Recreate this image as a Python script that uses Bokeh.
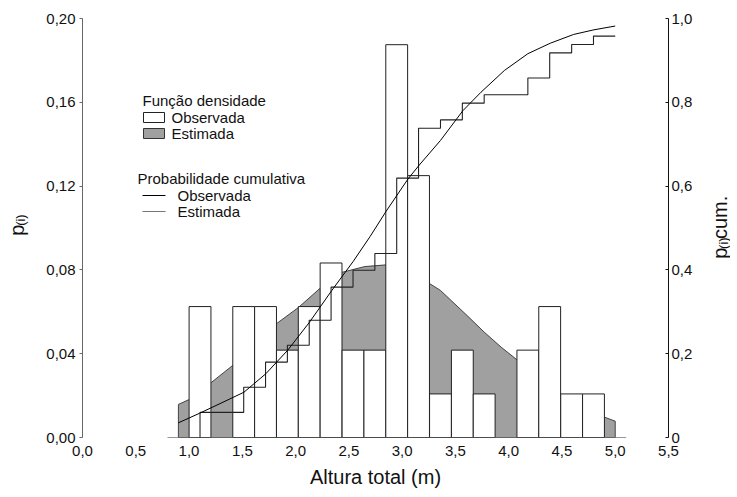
import math
from bokeh.plotting import figure
from bokeh.layouts import row
from bokeh.models import Range1d, LinearAxis, FixedTicker, Label, CustomJSTickFormatter
from bokeh.core.properties import value
from bokeh.embed import file_html
from bokeh.resources import INLINE

# ---------------- data ----------------
# class midpoints of histogram bars (m)
class_mid = [1.103, 1.308, 1.513, 1.718, 1.923, 2.128, 2.333, 2.539, 2.744, 2.949,
             3.154, 3.360, 3.565, 3.770, 3.975, 4.180, 4.385, 4.591, 4.796]
# observed relative frequency p(i)
p_obs = [0.0625, 0.0, 0.0625, 0.0625, 0.0417, 0.0625, 0.0833, 0.0417, 0.0417, 0.1875,
         0.1250, 0.0208, 0.0417, 0.0208, 0.0, 0.0417, 0.0625, 0.0208, 0.0208]
# observed cumulative probability (steps at class midpoints)
cum_obs = [0.060, 0.060, 0.120, 0.180, 0.220, 0.280, 0.359, 0.399, 0.439, 0.619,
           0.738, 0.758, 0.798, 0.818, 0.818, 0.858, 0.918, 0.938, 0.958]
# estimated density (shaded)
dens_x = [0.90, 1.00, 1.20, 1.41, 1.82, 2.03, 2.24, 2.44, 2.65, 2.85, 3.05, 3.26,
          3.36, 3.46, 3.61, 3.77, 3.93, 4.08, 4.50, 4.90, 5.00]
dens_y = [0.0158, 0.0181, 0.0259, 0.0344, 0.0543, 0.0622, 0.0717, 0.0789, 0.0816, 0.0824,
          0.0785, 0.0734, 0.0702, 0.0654, 0.0582, 0.0503, 0.0431, 0.0370, 0.0190, 0.0097, 0.0078]
# estimated cumulative probability (curve)
cum_est_x = [0.90, 1.10, 1.30, 1.515, 1.72, 1.925, 2.13, 2.34, 2.54, 2.70, 2.85, 3.055,
             3.16, 3.36, 3.57, 3.74, 3.96, 4.18, 4.39, 4.61, 4.80, 5.00]
cum_est_y = [0.035, 0.058, 0.082, 0.108, 0.152, 0.208, 0.275, 0.351, 0.420, 0.480, 0.540, 0.617,
             0.650, 0.709, 0.780, 0.824, 0.876, 0.916, 0.941, 0.962, 0.973, 0.982]

x_ticks = [0, 0.5, 1, 1.5, 2, 2.5, 3, 3.5, 4, 4.5, 5, 5.5]
x_tick_labels = ["0,0", "0,5", "1,0", "1,5", "2,0", "2,5", "3,0", "3,5", "4,0", "4,5", "5,0", "5,5"]
y_ticks = [0, 0.04, 0.08, 0.12, 0.16, 0.2]
y_tick_labels = ["0,00", "0,04", "0,08", "0,12", "0,16", "0,20"]
y2_ticks = [0, 0.2, 0.4, 0.6, 0.8, 1]
y2_tick_labels = ["0", "0,2", "0,4", "0,6", "0,8", "1,0"]

# ---------------- layout ----------------
FONT = "Liberation Sans"
BAR_W = 0.205
X0, X1, Y0, Y1 = 0.0, 5.5, 0.0, 0.2
F_LEFT, F_TOP, F_W, F_H = 82, 18, 586, 419   # frame position on page (px)
FIG_H = 490
LEFT_W = 40          # strip holding the left axis title
RIGHT_W = 32         # strip holding the right axis title
MAIN_RIGHT_BORDER = 30


def X(px):
    return X0 + (px - F_LEFT) / F_W * (X1 - X0)


def Y(py):
    return Y0 + (F_TOP + F_H - py) / F_H * (Y1 - Y0)


def fmt(ticks, labels):
    return CustomJSTickFormatter(args=dict(t=ticks, l=labels), code="""
        for (let i = 0; i < t.length; i++) {
            if (Math.abs(t[i] - tick) < 1e-9) { return l[i]; }
        }
        return "";
    """)


p = figure(frame_width=F_W, frame_height=F_H,
           x_range=Range1d(X0, X1), y_range=Range1d(Y0, Y1),
           output_backend="svg", toolbar_location=None,
           min_border_left=F_LEFT - LEFT_W, min_border_right=MAIN_RIGHT_BORDER,
           min_border_top=F_TOP, min_border_bottom=FIG_H - F_TOP - F_H)
p.outline_line_color = None
p.xgrid.visible = False
p.ygrid.visible = False
p.background_fill_color = "white"
p.border_fill_color = "white"

p.extra_y_ranges = {"cum": Range1d(0, 1)}

# bottom axis: labels only
xa = p.xaxis[0]
xa.ticker = FixedTicker(ticks=x_ticks)
xa.formatter = fmt(x_ticks, x_tick_labels)
xa.axis_line_color = None
xa.major_tick_line_color = None
xa.minor_tick_line_color = None
xa.major_label_standoff = 2
xa.major_label_text_font = FONT
xa.major_label_text_font_size = "15px"
xa.major_label_text_color = "#111111"
xa.axis_label = "Altura total (m)"
xa.axis_label_text_font = FONT
xa.axis_label_text_font_size = "20px"
xa.axis_label_text_font_style = "normal"
xa.axis_label_text_color = "#111111"
xa.axis_label_standoff = 7

# left axis
ya = p.yaxis[0]
ya.ticker = FixedTicker(ticks=y_ticks)
ya.formatter = fmt(y_ticks, y_tick_labels)
ya.axis_line_color = "#666666"
ya.major_tick_line_color = "#666666"
ya.major_tick_out = 3
ya.major_tick_in = 0
ya.minor_tick_line_color = None
ya.major_label_standoff = 4
ya.major_label_text_font = FONT
ya.major_label_text_font_size = "15px"
ya.major_label_text_color = "#111111"

# right axis
ra = LinearAxis(y_range_name="cum")
ra.ticker = FixedTicker(ticks=y2_ticks)
ra.formatter = fmt(y2_ticks, y2_tick_labels)
ra.axis_line_color = "#111111"
ra.major_tick_line_color = "#111111"
ra.major_tick_out = 0
ra.major_tick_in = 3
ra.minor_tick_line_color = None
ra.major_label_standoff = 3
ra.major_label_text_font = FONT
ra.major_label_text_font_size = "15px"
ra.major_label_text_color = "#111111"
p.add_layout(ra, "right")

# ---------------- marks ----------------
# estimated density (shaded area)
p.patch(x=dens_x + [dens_x[-1], dens_x[0]], y=dens_y + [0, 0],
        fill_color="#a0a0a0", line_color="#333333", line_width=0.9)

# observed relative frequencies
bx = [m for m, v in zip(class_mid, p_obs) if v > 0]
bt = [v for v in p_obs if v > 0]
p.vbar(x=bx, top=bt, bottom=0, width=BAR_W,
       fill_color="white", line_color="#222222", line_width=1)

# baseline under the histogram
p.segment(x0=[dens_x[0] - BAR_W / 2], y0=[0], x1=[dens_x[-1] + BAR_W / 2], y1=[0],
          line_color="#333333", line_width=1.2)

# observed cumulative step
sx = [class_mid[0]] + class_mid + [dens_x[-1]]
sy = [0] + cum_obs + [cum_obs[-1]]
p.step(x=sx, y=sy, mode="after", y_range_name="cum", line_color="#222222", line_width=1.1)

# estimated cumulative curve
p.line(x=cum_est_x, y=cum_est_y, y_range_name="cum", line_color="#000000", line_width=1)

# ---------------- legend (manual) ----------------
def label(px, py, text, size="15px", color="#111111"):
    p.add_layout(Label(x=X(px), y=Y(py), text=text,
                       text_font=FONT, text_font_size=size, text_color=color,
                       text_align="left", text_baseline="middle"))


label(142, 100, "Função densidade")
p.quad(left=[X(143)], right=[X(164)], top=[Y(112)], bottom=[Y(122)],
       fill_color="white", line_color="#222222", line_width=1)
label(171, 117, "Observada")
p.quad(left=[X(143)], right=[X(164)], top=[Y(128)], bottom=[Y(138)],
       fill_color="#a0a0a0", line_color="#333333", line_width=1)
label(171, 133, "Estimada")

label(137, 178, "Probabilidade cumulativa")
p.segment(x0=[X(142)], y0=[Y(195)], x1=[X(165)], y1=[Y(195)], line_color="#000000", line_width=1)
label(177, 195, "Observada")
p.segment(x0=[X(142)], y0=[Y(211)], x1=[X(165)], y1=[Y(211)], line_color="#777777", line_width=1.2)
label(177, 211, "Estimada")


# ---------------- axis titles (with subscript) in side strips ----------------
def strip(width):
    f = figure(width=width, height=FIG_H, x_range=Range1d(0, width), y_range=Range1d(0, FIG_H),
               output_backend="svg", toolbar_location=None,
               min_border=0, min_border_left=0, min_border_right=0,
               min_border_top=0, min_border_bottom=0)
    f.axis.visible = False
    f.grid.visible = False
    f.outline_line_color = None
    f.background_fill_color = "white"
    f.border_fill_color = "white"
    return f


A = math.pi / 2


def vtext(f, x, py, text, size):
    f.text(x=[x], y=[FIG_H - py], text=[text], angle=A,
           text_font=value(FONT), text_font_size=value(size), text_color="#111111",
           text_align="left", text_baseline="middle")


left = strip(LEFT_W)
vtext(left, 16, 254, "p", "20px")
vtext(left, 20, 242.5, "(i)", "13px")

right_x0 = F_LEFT + F_W + MAIN_RIGHT_BORDER   # page x where right strip starts
right = strip(RIGHT_W)
vtext(right, 719 - right_x0, 281, "p", "20px")
vtext(right, 723 - right_x0, 269.5, "(i)", "13px")
vtext(right, 719 - right_x0, 258, "cum.", "20px")

layout = row(left, p, right, spacing=0)
open("out.html", "w").write(file_html(layout, INLINE))
